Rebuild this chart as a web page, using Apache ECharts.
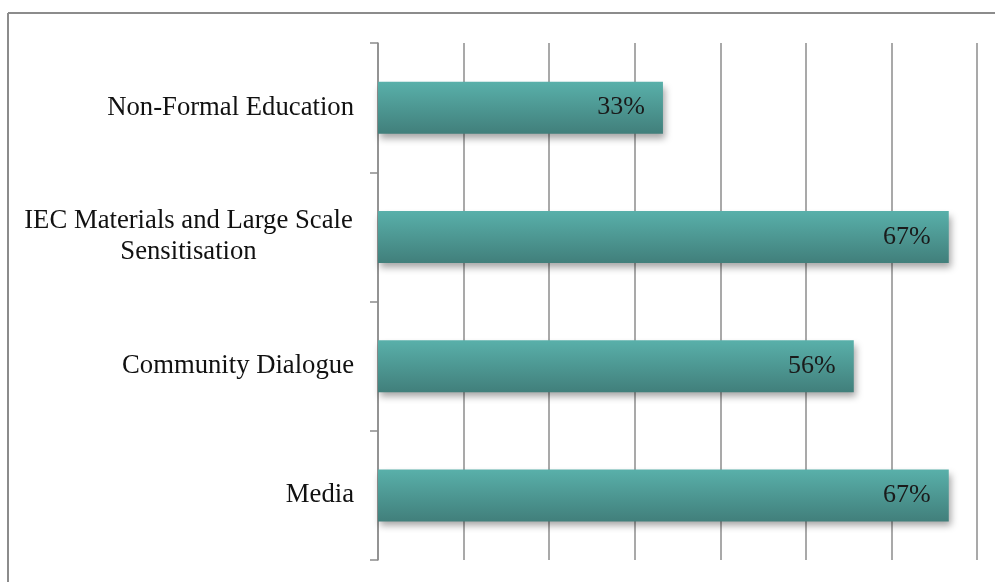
<!DOCTYPE html>
<html>
<head>
    <meta charset="utf-8">
    <title>chart</title>
    <script src="https://cdn.jsdelivr.net/npm/echarts@6/dist/echarts.min.js"></script>
    <style>
        html, body { margin: 0; padding: 0; background: #fff; }
        #chart { width: 995px; height: 582px; }
    </style>
</head>
<body>
<div id="chart"></div>
<script>
    // data (bar ends; labels show rounded %)
    var categories = ['Non-Formal Education', 'IEC Materials and Large Scale\nSensitisation', 'Community Dialogue', 'Media'];
    var values = [33.3, 66.7, 55.6, 66.7];

    var myChart = echarts.init(document.getElementById('chart'));
    var font = '"Liberation Serif", "Times New Roman", serif';

    var option = {
        animation: false,
        grid: { left: 378, right: 18, top: 43, bottom: 22 },
        xAxis: {
            type: 'value',
            min: 0,
            max: 70,
            interval: 10,
            axisLine: { show: false },
            axisTick: { show: false },
            axisLabel: { show: false },
            splitLine: { show: true, lineStyle: { color: '#8c8c8c', width: 1.5 } }
        },
        yAxis: {
            type: 'category',
            inverse: true,
            data: categories,
            axisLine: { show: true, lineStyle: { color: '#8c8c8c', width: 1.5 } },
            axisTick: { show: true, length: 8, lineStyle: { color: '#8c8c8c', width: 1.5 } },
            axisLabel: {
                margin: 24,
                color: '#111',
                fontFamily: font,
                fontSize: 26.7,
                formatter: function (v) {
                    if (v.indexOf('\n') < 0) return v;
                    // multi-line label: lines centred on each other
                    return v.split('\n').map(function (s) { return '{c|' + s + '}'; }).join('\n');
                },
                rich: {
                    c: { width: 331, align: 'center', fontFamily: font, fontSize: 26.7, color: '#111', lineHeight: 31 }
                }
            }
        },
        series: [{
            type: 'bar',
            data: values,
            barWidth: 52,
            itemStyle: {
                color: new echarts.graphic.LinearGradient(0, 0, 0, 1, [
                    { offset: 0, color: '#59b0aa' },
                    { offset: 1, color: '#417f7b' }
                ]),
                shadowColor: 'rgba(0,0,0,0.35)',
                shadowBlur: 7,
                shadowOffsetX: 2,
                shadowOffsetY: 5
            },
            label: {
                show: true,
                position: 'insideRight',
                distance: 18,
                formatter: function (p) { return Math.round(p.value) + '%'; },
                color: '#1a1a1a',
                fontFamily: font,
                fontSize: 26
            }
        }],
        graphic: [
            { type: 'line', shape: { x1: 8, y1: 13, x2: 995, y2: 13 }, style: { stroke: '#8c8c8c', lineWidth: 2 } },
            { type: 'line', shape: { x1: 8, y1: 13, x2: 8, y2: 582 }, style: { stroke: '#8c8c8c', lineWidth: 2 } }
        ]
    };
    myChart.setOption(option);
</script>
</body>
</html>
